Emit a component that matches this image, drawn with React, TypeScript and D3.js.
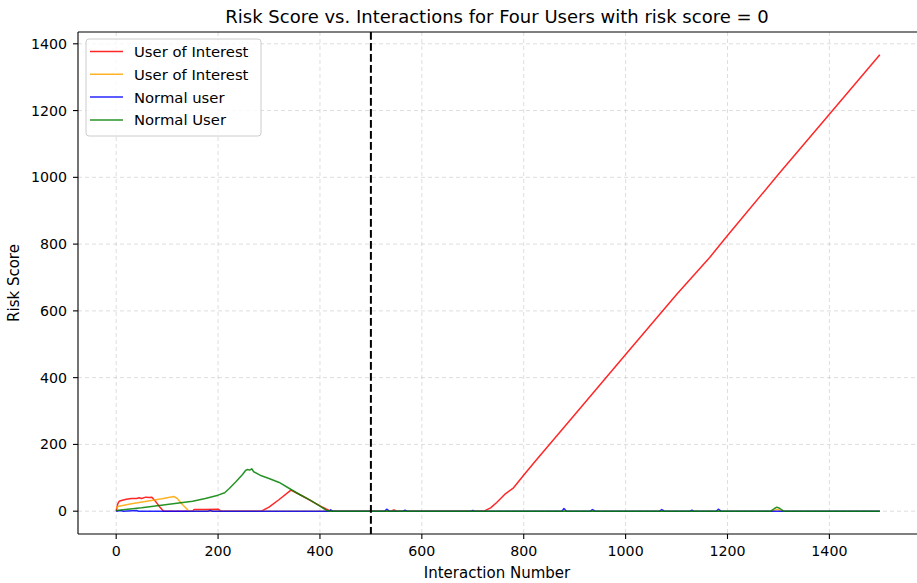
import React from "react";
import * as d3 from "d3";

// Series vertices: [interaction number, risk score]
const redSeries: [number, number][] = [
  [0, 0], [3, 22], [6, 30], [12, 33], [20, 36], [30, 38], [40, 38], [45, 40], [50, 38], [58, 42],
  [65, 41], [70, 42], [78, 28], [86, 12], [93, 0], [150, 0], [153, 5], [175, 5], [200, 6], [206, 0],
  [285, 0], [300, 12], [320, 35], [343, 63], [360, 50], [380, 33], [400, 16], [418, 2], [425, 0],
  [540, 0], [545, 4], [552, 0], [722, 0], [735, 10], [747, 26], [764, 52], [780, 70], [801, 110],
  [823, 150], [900, 289], [1000, 469], [1100, 649], [1165, 760], [1200, 826], [1300, 1009],
  [1400, 1189], [1499, 1367],
];

const orangeSeries: [number, number][] = [
  [0, 8], [3, 14], [30, 22], [60, 30], [90, 37], [113, 44], [120, 38], [130, 20], [143, 0],
  [1285, 0], [1297, 5], [1310, 0], [1499, 0],
];

const blueSeries: [number, number][] = [
  [0, 0], [10, 2], [14, 0], [40, 2], [44, 0], [180, 0], [185, 2], [189, 0], [418, 0], [421, 4],
  [425, 0], [527, 0], [531, 6], [536, 0], [563, 0], [567, 3], [571, 0], [697, 0], [700, 2], [703, 0],
  [875, 0], [879, 8], [884, 0], [931, 0], [935, 5], [940, 0], [1067, 0], [1071, 5], [1076, 0],
  [1127, 0], [1130, 3], [1133, 0], [1178, 0], [1182, 6], [1187, 0], [1499, 0],
];

const greenSeries: [number, number][] = [
  [0, 2], [50, 10], [100, 20], [150, 30], [175, 38], [200, 48], [213, 55], [222, 68], [235, 88],
  [248, 110], [254, 122], [258, 125], [262, 123], [266, 127], [270, 118], [285, 106], [300, 98],
  [320, 86], [340, 68], [360, 50], [380, 34], [400, 15], [412, 3], [420, 0], [1285, 0], [1292, 8],
  [1297, 12], [1303, 8], [1310, 0], [1499, 0],
];

const seriesNames = ["User of Interest", "User of Interest", "Normal user", "Normal User"];
const seriesColors = ["#ff0000", "#ffa500", "#0000ff", "#008000"];
const xTicks = [0, 200, 400, 600, 800, 1000, 1200, 1400];
const yTicks = [0, 200, 400, 600, 800, 1000, 1200, 1400];
const thresholdX = 500;

const W = 917;
const H = 583;
const left = 78;
const right = 918;
const top = 32;
const bottom = 534;
const FONT = "'DejaVu Sans', sans-serif";

export default function App() {
  const all = [redSeries, orangeSeries, blueSeries, greenSeries];
  const xs = all.flat().map((d) => d[0]);
  const ys = all.flat().map((d) => d[1]);
  const [x0, x1] = d3.extent(xs) as [number, number];
  const [y0, y1] = d3.extent(ys) as [number, number];
  const xm = (x1 - x0) * 0.05;
  const ym = (y1 - y0) * 0.05;
  const x = d3.scaleLinear().domain([x0 - xm, x1 + xm]).range([left, right]);
  const y = d3.scaleLinear().domain([y0 - ym, y1 + ym]).range([bottom, top]);
  const line = d3
    .line<[number, number]>()
    .x((d) => x(d[0]))
    .y((d) => y(d[1]));

  const legendX = 86;
  const legendY = 39;
  const rowH = 22.8;

  return (
    <svg
      width={W}
      height={H}
      style={{ position: "absolute", left: 0, top: 0, background: "#fff" }}
      fontFamily={FONT}
    >
      <defs>
        <clipPath id="plot">
          <rect x={left} y={top} width={right - left} height={bottom - top} />
        </clipPath>
      </defs>
      {/* grid */}
      <g stroke="#b0b0b0" strokeOpacity={0.55} strokeWidth={0.8} strokeDasharray="4,3">
        {xTicks.map((t) => (
          <line key={"gx" + t} x1={x(t)} x2={x(t)} y1={top} y2={bottom} />
        ))}
        {yTicks.map((t) => (
          <line key={"gy" + t} x1={left} x2={right} y1={y(t)} y2={y(t)} />
        ))}
      </g>
      {/* series */}
      <g clipPath="url(#plot)" fill="none" strokeWidth={1.5} strokeOpacity={0.85} strokeLinejoin="round">
        {all.map((s, i) => (
          <path key={i} d={line(s) || ""} stroke={seriesColors[i]} />
        ))}
      </g>
      {/* threshold */}
      <line
        x1={x(thresholdX)}
        x2={x(thresholdX)}
        y1={top}
        y2={bottom}
        stroke="#000"
        strokeWidth={2}
        strokeDasharray="7.7,3.3"
      />
      {/* spines */}
      <g stroke="#000" strokeWidth={1.1} fill="none">
        <line x1={left} x2={left} y1={top} y2={bottom} />
        <line x1={left} x2={right} y1={bottom} y2={bottom} />
        <line x1={left} x2={right} y1={top} y2={top} />
      </g>
      {/* ticks and axis labels */}
      <g fontSize={14.2} fill="#000">
        {xTicks.map((t) => (
          <g key={"xt" + t}>
            <line x1={x(t)} x2={x(t)} y1={bottom} y2={bottom + 5} stroke="#000" strokeWidth={1.1} />
            <text x={x(t)} y={bottom + 22} textAnchor="middle">
              {t}
            </text>
          </g>
        ))}
        {yTicks.map((t) => (
          <g key={"yt" + t}>
            <line x1={left - 5} x2={left} y1={y(t)} y2={y(t)} stroke="#000" strokeWidth={1.1} />
            <text x={left - 11} y={y(t) + 5} textAnchor="end">
              {t}
            </text>
          </g>
        ))}
      </g>
      <g fontSize={15} fill="#000">
        <text x={(left + right) / 2 - 1} y={578} textAnchor="middle">
          Interaction Number
        </text>
        <text transform={`translate(19, ${(top + bottom) / 2}) rotate(-90)`} textAnchor="middle">
          Risk Score
        </text>
      </g>
      <text x={(left + right) / 2 - 1} y={23} textAnchor="middle" fontSize={18} fill="#000">
        Risk Score vs. Interactions for Four Users with risk score = 0
      </text>
      {/* legend */}
      <g>
        <rect
          x={legendX}
          y={legendY}
          width={175}
          height={97}
          rx={3}
          fill="#fff"
          fillOpacity={0.8}
          stroke="#cccccc"
          strokeWidth={1}
        />
        {seriesNames.map((n, i) => (
          <g key={"lg" + i}>
            <line
              x1={legendX + 4}
              x2={legendX + 37}
              y1={legendY + 12.5 + i * rowH}
              y2={legendY + 12.5 + i * rowH}
              stroke={seriesColors[i]}
              strokeOpacity={0.85}
              strokeWidth={1.5}
            />
            <text x={legendX + 48} y={legendY + 18 + i * rowH} fontSize={14.8} fill="#000">
              {n}
            </text>
          </g>
        ))}
      </g>
    </svg>
  );
}
